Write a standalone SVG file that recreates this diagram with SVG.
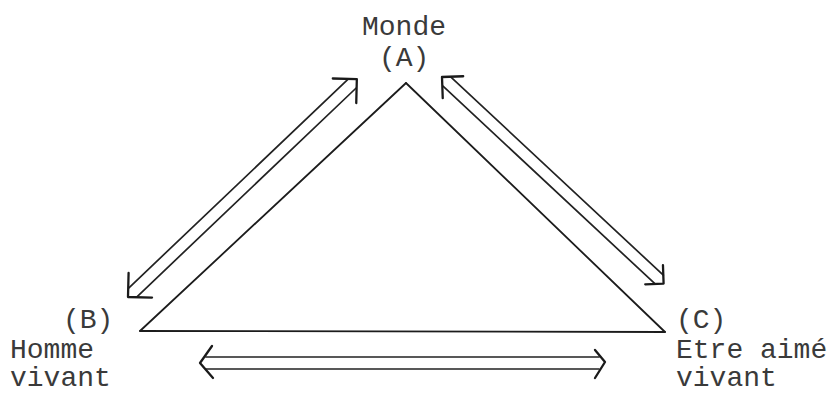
<svg xmlns="http://www.w3.org/2000/svg" width="837" height="397" viewBox="0 0 837 397">
  <style>
    .lbl { font-family: "Liberation Mono", "Courier New", monospace; font-size: 28px; fill: #3a3a3a; }
    .edge { stroke: #1c1c1c; stroke-width: 1.8; fill: none; stroke-linecap: round; }
    .shaft { stroke: #222; stroke-width: 1.7; fill: none; stroke-linecap: round; }
    .head { stroke: #1a1a1a; stroke-width: 2.3; fill: none; stroke-linecap: round; stroke-linejoin: round; }
  </style>
  <rect width="837" height="397" fill="#ffffff"/>

  <!-- triangle edges and double exchange arrows -->
  <g id="connectors">
    <path class="edge" d="M406,83 L140,331"/>
    <path class="edge" d="M406,83 L665,332"/>
    <path class="edge" d="M140,331 L665,332"/>

    <!-- B <-> A -->
    <g transform="translate(128,297) rotate(-43.6)">
      <path class="shaft" d="M7,-6 L309,-6 M7,6 L309,6"/>
      <path class="head" d="M17,-17 L0,0 L17,17"/>
      <path class="head" d="M299,-17 L316,0 L299,17"/>
    </g>
    <!-- A <-> C -->
    <g transform="translate(442,77) rotate(43)">
      <path class="shaft" d="M7,-6 L297,-6 M7,6 L297,6"/>
      <path class="head" d="M15,-15 L0,0 L15,15"/>
      <path class="head" d="M290,-13 L303,0 L290,13"/>
    </g>
    <!-- B <-> C -->
    <g transform="translate(200,363)">
      <path class="shaft" d="M6,-6 L399,-6 M6,6 L399,6"/>
      <path class="head" d="M12,-17 L0,0 L13,15"/>
      <path class="head" d="M395,-13 L405,-1 L395,15"/>
    </g>
  </g>

  <g id="node-A">
    <text class="lbl" x="362" y="35">Monde</text>
    <text class="lbl" x="379" y="66">(A)</text>
  </g>
  <g id="node-B">
    <text class="lbl" x="63" y="328">(B)</text>
    <text class="lbl" x="10" y="358">Homme</text>
    <text class="lbl" x="10" y="386">vivant</text>
  </g>
  <g id="node-C">
    <text class="lbl" x="676" y="328">(C)</text>
    <text class="lbl" x="676" y="358">Etre aimé</text>
    <text class="lbl" x="676" y="386">vivant</text>
  </g>
</svg>
